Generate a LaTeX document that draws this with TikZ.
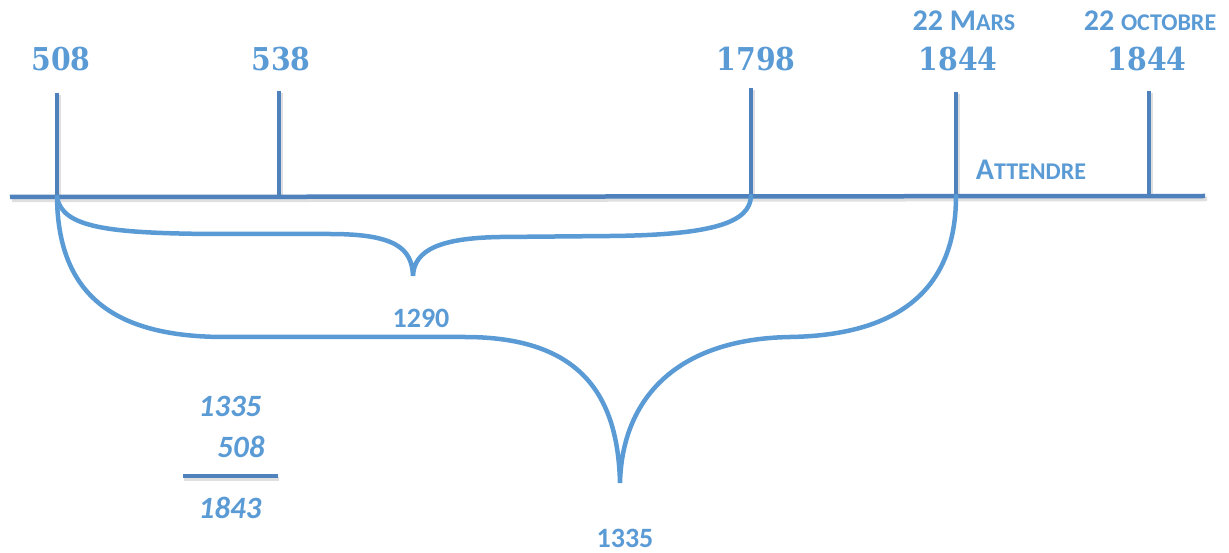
\documentclass[tikz,border=0pt]{standalone}
\usepackage{fontspec}
\newfontfamily\lab{Carlito}
\newfontfamily\yr{DejaVu Serif}[FakeStretch=0.9]
\definecolor{axis}{RGB}{79,129,189}
\definecolor{brc}{RGB}{91,155,213}
\definecolor{txt}{RGB}{91,155,213}
\tikzset{
  axisline/.style={draw=axis,line width=4.5pt},
  shadowline/.style={draw=black!25,line width=4.5pt,opacity=0.5},
  bracepath/.style={draw=brc,line width=4.5pt,line cap=round},
  year/.style={text=txt,font=\yr\fontsize{31.5}{36}\selectfont\bfseries,inner sep=0pt,anchor=base},
  tag/.style={text=txt,font=\lab\bfseries,inner sep=0pt,anchor=base},
  sumtxt/.style={text=txt,font=\lab\fontsize{31}{34}\selectfont\bfseries\itshape,inner sep=0pt,anchor=base},
}
\newcommand{\myFull}[1]{{\fontsize{30}{32}\selectfont #1}}
\newcommand{\mySmall}[1]{{\fontsize{24}{26}\selectfont #1}}
\newcommand{\myNum}[1]{{\fontsize{28}{32}\selectfont #1}}
\begin{document}
\begin{tikzpicture}[x=1pt,y=-1pt]
\useasboundingbox (0,0) rectangle (1229,553);
% coordinates
\coordinate (L) at (10,197);
\coordinate (R) at (1205,196);
\coordinate (b1) at (57,197);  \coordinate (t1) at (57,93);
\coordinate (b2) at (279,197); \coordinate (t2) at (279,91);
\coordinate (b3) at (751,196); \coordinate (t3) at (751,88);
\coordinate (b4) at (956,196); \coordinate (t4) at (956,92);
\coordinate (b5) at (1149,196);\coordinate (t5) at (1149,91);
% shadows
\draw[shadowline] ([shift={(2,3)}]L) -- ([shift={(2,3)}]R);
\foreach \i in {1,...,5}{\draw[shadowline,line width=3pt] ([shift={(2,2)}]t\i) -- ([shift={(2,0)}]b\i);}
% axis
\draw[axisline] (L) -- (R);
\foreach \i in {1,...,5}{\draw[axisline,line width=4pt] (t\i) -- (b\i);}
% small brace
\coordinate (tipA) at (413,276);
\draw[bracepath] (b1) .. controls (62,228) and (110,233) .. (210,234) -- (330,234)
   .. controls (395,234) and (412,248) .. (tipA)
   .. controls (414,250) and (440,238) .. (500,237) -- (610,236)
   .. controls (715,235) and (750,222) .. (b3);
% big brace
\coordinate (tipB) at (620,483);
\draw[bracepath] (b1) .. controls (58,300) and (120,337) .. (225,337) -- (465,337)
   .. controls (585,337) and (618,400) .. (tipB)
   .. controls (622,400) and (675,339) .. (790,337)
   .. controls (910,335) and (956,280) .. (b4);
% labels
\node[year] (y508) at (61,71) {508};
\node[year] (y538) at (281,71) {538};
\node[year] (y1798) at (756,71) {1798};
\node[year] (y1844a) at (958,71) {1844};
\node[year] (y1844b) at (1147,71) {1844};
\node[tag] (mars) at (964,31) {\myFull{22 M}\mySmall{ARS}};
\node[tag] (oct) at (1150,31) {\myFull{22 }\mySmall{OCTOBRE}};
\node[tag] (att) at (1031,180) {\myFull{A}\mySmall{TTENDRE}};
\node[tag] (n1290) at (421,328) {\myNum{1290}};
\node[tag] (n1335) at (625,547) {\myNum{1335}};
\node[sumtxt] (s1) at (230,416) {1335};
\node[sumtxt] (s2) at (241,457) {508};
\node[sumtxt] (s3) at (230,518) {1843};
\coordinate (ua) at (183,476);
\coordinate (ub) at (278,476);
\draw[shadowline,line width=3.5pt] ([shift={(1,3)}]ua) -- ([shift={(1,3)}]ub);
\draw[axisline,line width=3.5pt] (ua) -- (ub);
\end{tikzpicture}
\end{document}
